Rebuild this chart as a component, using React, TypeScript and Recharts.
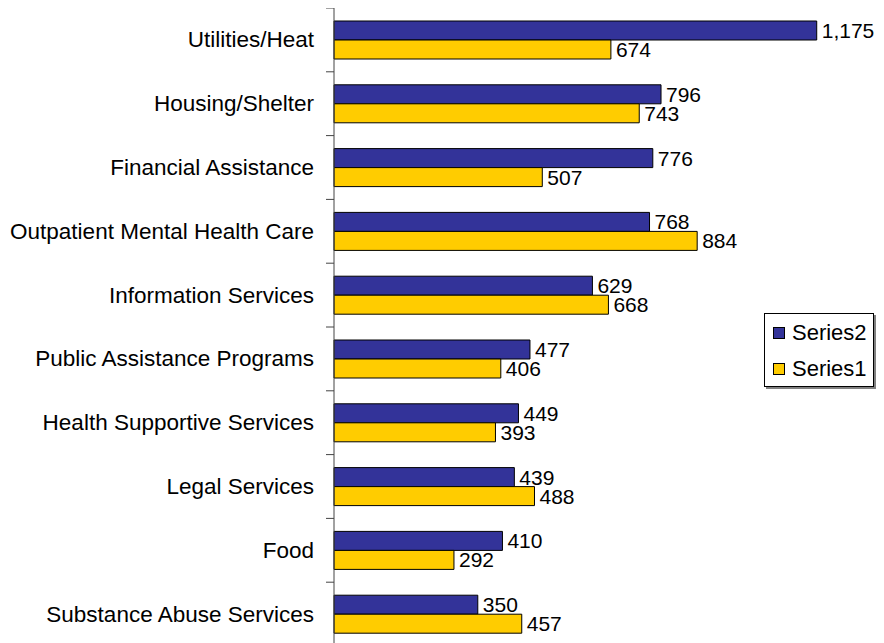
import React from "react";
import { BarChart, Bar, XAxis, YAxis, Legend, LabelList } from "recharts";

const categories = [
  "Utilities/Heat",
  "Housing/Shelter",
  "Financial Assistance",
  "Outpatient Mental Health Care",
  "Information Services",
  "Public Assistance Programs",
  "Health Supportive Services",
  "Legal Services",
  "Food",
  "Substance Abuse Services",
];
const series2 = [1175, 796, 776, 768, 629, 477, 449, 439, 410, 350];
const series1 = [674, 743, 507, 884, 668, 406, 393, 488, 292, 457];

const BLUE = "#333399";
const YELLOW = "#FFCC00";
const FONT = "Arial, 'Liberation Sans', sans-serif";

const CHART_W = 876;
const CHART_H = 650;
const MARGIN = { top: 0, right: 57, bottom: 12, left: 0 };
const PLOT_H = CHART_H - MARGIN.top - MARGIN.bottom;
const BAND = PLOT_H / categories.length;

const data = categories.map((name, i) => ({ name, s2: series2[i], s1: series1[i] }));

function CategoryTick(props: any) {
  const { x, y, payload, index } = props;
  const axisX = x + 20;
  return (
    <g>
      <text x={x} y={y} dy={7.5} textAnchor="end" fontSize={22.5} fill="#000" fontFamily={FONT}>
        {payload.value}
      </text>
      <line x1={axisX - 8} x2={axisX} y1={y - BAND / 2} y2={y - BAND / 2} stroke="#444" />
      {index === categories.length - 1 && (
        <line x1={axisX - 8} x2={axisX} y1={y + BAND / 2} y2={y + BAND / 2} stroke="#444" />
      )}
    </g>
  );
}

function LegendBox() {
  const items = [
    { label: "Series2", color: BLUE },
    { label: "Series1", color: YELLOW },
  ];
  return (
    <div
      style={{
        position: "absolute",
        left: 756,
        top: 305,
        border: "1px solid #000",
        boxShadow: "2px 2px 0 #808080",
        background: "#fff",
        width: 110,
        height: 74,
        boxSizing: "border-box",
        padding: "3px 0 0 8px",
        fontFamily: FONT,
      }}
    >
      {items.map((it) => (
        <div key={it.label} style={{ display: "flex", alignItems: "center", height: 32, marginBottom: 4 }}>
          <span
            style={{
              display: "inline-block",
              width: 10,
              height: 10,
              background: it.color,
              border: "1px solid #000",
              marginRight: 7,
            }}
          />
          <span style={{ fontSize: 22, color: "#000" }}>{it.label}</span>
        </div>
      ))}
    </div>
  );
}

export default function App() {
  const fmt = (v: any) => Number(v).toLocaleString("en-US");
  return (
    <div style={{ position: "relative", width: CHART_W, height: 635, overflow: "hidden", fontFamily: FONT }}>
      <BarChart
        width={CHART_W}
        height={CHART_H}
        data={data}
        layout="vertical"
        margin={MARGIN}
        barSize={19}
        barGap={0}
      >
        <XAxis type="number" domain={[0, 1200]} hide />
        <YAxis
          type="category"
          dataKey="name"
          width={326}
          tickLine={false}
          tickSize={8}
          tickMargin={12}
          axisLine={{ stroke: "#444" }}
          tick={<CategoryTick />}
          interval={0}
        />
        <Legend
          content={() => <LegendBox />}
          wrapperStyle={{ position: "absolute", left: 0, top: 0, width: 0, height: 0, overflow: "visible" }}
        />
        <Bar dataKey="s2" name="Series2" fill={BLUE} stroke="#000" strokeWidth={1} isAnimationActive={false}>
          <LabelList dataKey="s2" position="right" offset={5} fontSize={21} fill="#000" formatter={fmt} />
        </Bar>
        <Bar dataKey="s1" name="Series1" fill={YELLOW} stroke="#000" strokeWidth={1} isAnimationActive={false}>
          <LabelList dataKey="s1" position="right" offset={5} fontSize={21} fill="#000" formatter={fmt} />
        </Bar>
      </BarChart>
    </div>
  );
}
